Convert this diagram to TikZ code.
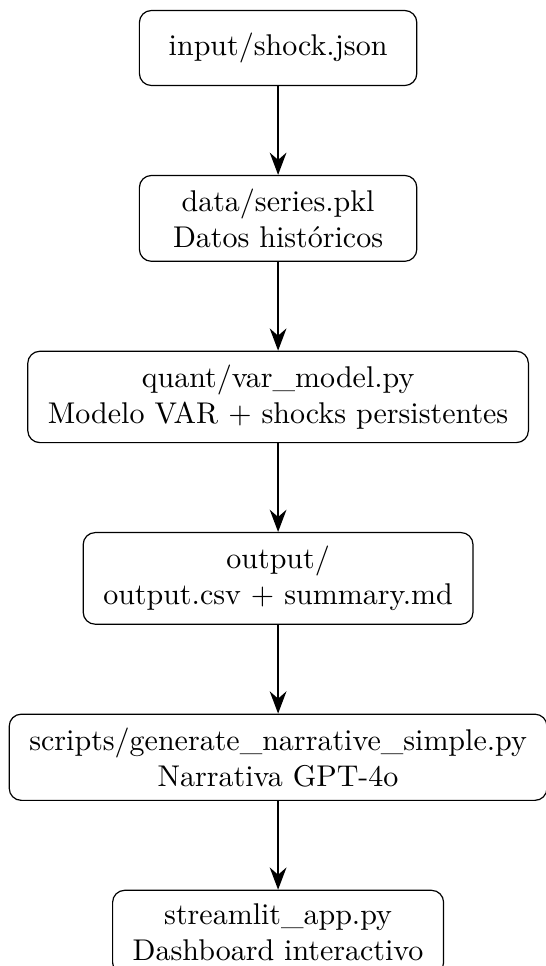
\documentclass[tikz,border=0pt]{standalone}
\usepackage{tikz}
\usetikzlibrary{arrows.meta,positioning,calc}

\begin{document}
\begin{tikzpicture}[
		node distance=1.04cm,
		box/.style={draw, rounded corners, align=center, inner xsep=6.7pt, inner ysep=4.5pt, minimum width=3.25cm, minimum height=25pt},
		flow/.style={-{Stealth[length=2.6mm]}, thick}
	]
		% flujo del pipeline
		\node[box] (shock) {input/shock.json};
		\node[box, below=of shock] (series) {data/series.pkl\\Datos históricos};
		\node[box, below=of series] (var) {quant/var\_model.py\\Modelo VAR + shocks persistentes};
		\node[box, below=of var] (out) {output/\\output.csv + summary.md};
		\node[box, below=of out] (narr) {scripts/generate\_narrative\_simple.py\\Narrativa GPT-4o};
		\node[box, below=of narr] (app) {streamlit\_app.py\\Dashboard interactivo};
		
		\draw[flow] (shock) -- (series);
		\draw[flow] (series) -- (var);
		\draw[flow] (var) -- (out);
		\draw[flow] (out) -- (narr);
		\draw[flow] (narr) -- (app);
		
		% recorte como en la imagen
		\pgfresetboundingbox
		\useasboundingbox ($(shock.north)+(-92.7pt,3.3pt)$) rectangle ($(shock.north)+(89pt,-318.7pt)$);
	\end{tikzpicture}
\end{document}
